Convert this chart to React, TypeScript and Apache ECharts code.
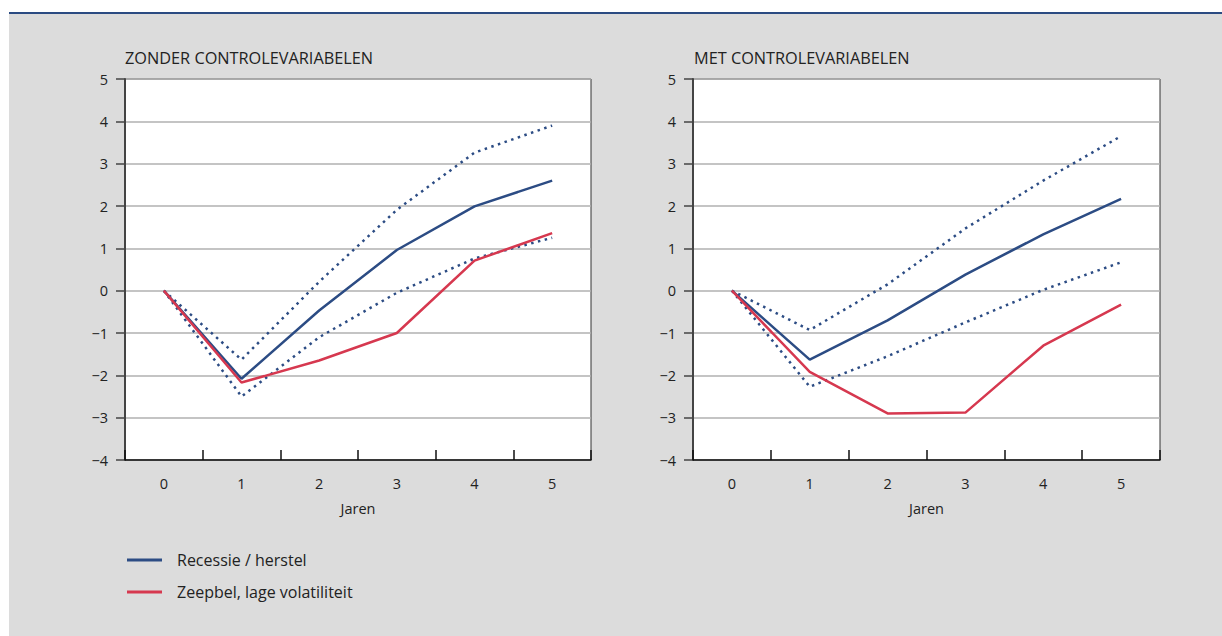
import React, { useEffect, useRef } from "react";
import * as echarts from "echarts";

const years = ["0", "1", "2", "3", "4", "5"];

// Zonder controlevariabelen
const leftRecessie = [0, -2.08, -0.47, 0.96, 1.99, 2.6];
const leftRecessieUpper = [0, -1.63, 0.21, 1.91, 3.26, 3.9];
const leftRecessieLower = [0, -2.5, -1.1, -0.05, 0.76, 1.25];
const leftZeepbel = [0, -2.17, -1.65, -1.0, 0.71, 1.36];

// Met controlevariabelen
const rightRecessie = [0, -1.63, -0.7, 0.38, 1.33, 2.17];
const rightRecessieUpper = [0, -0.93, 0.15, 1.47, 2.6, 3.65];
const rightRecessieLower = [0, -2.27, -1.55, -0.75, 0.02, 0.67];
const rightZeepbel = [0, -1.92, -2.9, -2.88, -1.3, -0.33];

const titles = ["ZONDER CONTROLEVARIABELEN", "MET CONTROLEVARIABELEN"];
const legendNames = ["Recessie / herstel", "Zeepbel, lage volatiliteit"];
const xName = "Jaren";

const BLUE = "#2c4c84";
const RED = "#d6384f";
const FONT = "Open Sans";

export default function App() {
  const ref = useRef<HTMLDivElement>(null);
  useEffect(() => {
    const chart = echarts.init(ref.current!, null, { renderer: "svg" });
    const grids = [
      { left: 116, top: 67, width: 466, height: 381 },
      { left: 684, top: 67, width: 467, height: 381 },
    ];
    const xAxes = grids.map((_, i) => ({
      type: "category",
      gridIndex: i,
      data: years,
      boundaryGap: true,
      name: xName,
      nameLocation: "middle",
      nameGap: 41,
      nameTextStyle: { color: "#222", fontSize: 14.5, fontFamily: FONT },
      axisLine: { show: true, onZero: false, lineStyle: { color: "#111", width: 1.5 } },
      axisTick: { show: true, inside: true, length: 10, interval: 0, lineStyle: { color: "#111", width: 1.5 } },
      axisLabel: { color: "#222", fontSize: 14.5, fontFamily: FONT, margin: 16, interval: 0 },
      splitLine: { show: false },
    }));
    const yAxes = grids.map((_, i) => ({
      type: "value",
      gridIndex: i,
      min: -4,
      max: 5,
      interval: 1,
      axisLine: { show: true, lineStyle: { color: "#444", width: 2 } },
      axisTick: { show: true, inside: false, length: 9, lineStyle: { color: "#444", width: 1.5 } },
      axisLabel: {
        color: "#222",
        fontSize: 14.5,
        fontFamily: FONT,
        margin: 17,
        formatter: (v: number) => String(v).replace("-", "\u2212"),
      },
      splitLine: { show: true, lineStyle: { color: "#b0b0b0", width: 1.5 } },
    }));
    const solid = (name: string, data: number[], color: string, idx: number) => ({
      type: "line",
      name,
      xAxisIndex: idx,
      yAxisIndex: idx,
      data,
      symbol: "none",
      lineStyle: { color, width: 2.5 },
      itemStyle: { color },
      z: color === RED ? 4 : 3,
    });
    const dotted = (name: string, data: number[], idx: number) => ({
      type: "line",
      name,
      xAxisIndex: idx,
      yAxisIndex: idx,
      data,
      symbol: "none",
      lineStyle: { color: BLUE, width: 2.5, type: [2.5, 4.5] },
      itemStyle: { color: BLUE },
      z: 2,
    });
    chart.setOption({
      animation: false,
      backgroundColor: "#dcdcdc",
      grid: grids.map((g) => ({
        ...g,
        show: true,
        backgroundColor: "#ffffff",
        borderColor: "#333",
        borderWidth: 1,
        containLabel: false,
      })),
      xAxis: xAxes,
      yAxis: yAxes,
      legend: {
        data: legendNames,
        orient: "vertical",
        left: 113,
        top: 534,
        icon: "rect",
        itemWidth: 35,
        itemHeight: 3,
        itemGap: 14,
        textStyle: { color: "#222", fontSize: 16, lineHeight: 18, fontFamily: FONT, padding: [0, 0, 0, 10] },
      },
      graphic: [
        { type: "rect", left: -10, top: 0, shape: { width: 1300, height: 2 }, style: { fill: "#2b4b82" } },
        { type: "text", left: 116, top: 38, style: { text: titles[0], fill: "#222", font: `16.3px "${FONT}"` } },
        { type: "text", left: 685, top: 38, style: { text: titles[1], fill: "#222", font: `16.3px "${FONT}"` } },
      ],
      series: [
        dotted("leftUpper", leftRecessieUpper, 0),
        dotted("leftLower", leftRecessieLower, 0),
        solid(legendNames[0], leftRecessie, BLUE, 0),
        solid(legendNames[1], leftZeepbel, RED, 0),
        dotted("rightUpper", rightRecessieUpper, 1),
        dotted("rightLower", rightRecessieLower, 1),
        solid(legendNames[0], rightRecessie, BLUE, 1),
        solid(legendNames[1], rightZeepbel, RED, 1),
      ],
    });
    return () => chart.dispose();
  }, []);
  return (
    <div
      ref={ref}
      style={{ position: "fixed", left: 9, top: 12, width: 1213, height: 624 }}
    />
  );
}
